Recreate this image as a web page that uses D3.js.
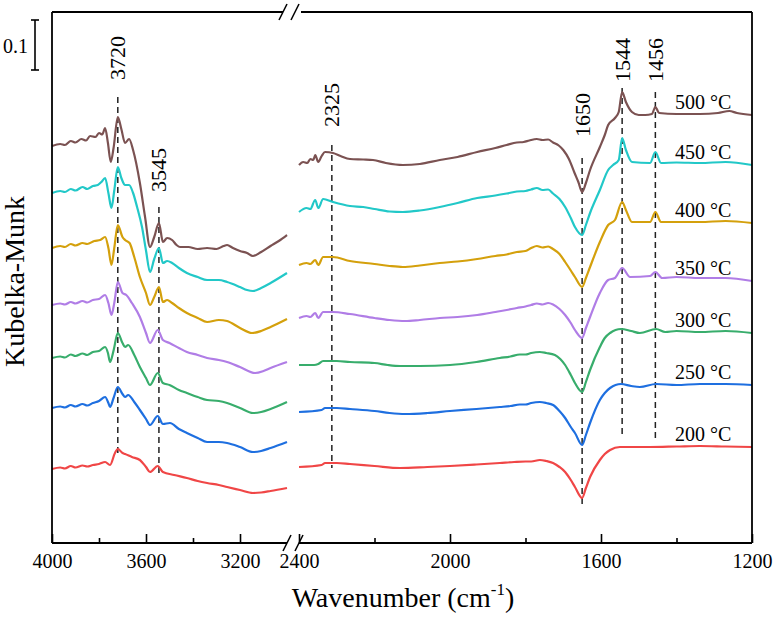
<!DOCTYPE html>
<html><head><meta charset="utf-8">
<script src="https://cdn.jsdelivr.net/npm/d3@7"></script>
<style>body{margin:0;background:#fff}svg{display:block}</style>
</head><body><svg id="c" width="775" height="619"></svg>
<script>
// ---------- DATA ----------
const temps = ["500 °C","450 °C","400 °C","350 °C","300 °C","250 °C","200 °C"];
const colors = ["#7b5252","#22c8c8","#d4a00c","#b07de6","#38ad6c","#1e6fe0","#f04646"];

// left panel (4000-3000 cm-1): [wavenumber, Kubelka-Munk]
const left500 = [[4000,0.794],[3965,0.798],[3945,0.796],[3920,0.804],[3900,0.801],[3875,0.808],[3855,0.805],[3838,0.814],[3815,0.812],[3800,0.820],[3786,0.817],[3774,0.830],[3762,0.800],[3750,0.762],[3738,0.790],[3720,0.852],[3705,0.828],[3689,0.800],[3672,0.808],[3655,0.786],[3626,0.720],[3604,0.652],[3583,0.592],[3565,0.612],[3545,0.640],[3528,0.602],[3510,0.610],[3489,0.606],[3470,0.596],[3455,0.592],[3420,0.592],[3380,0.588],[3340,0.590],[3300,0.588],[3270,0.594],[3255,0.596],[3230,0.590],[3200,0.584],[3170,0.580],[3145,0.574],[3110,0.582],[3070,0.594],[3035,0.604],[3000,0.616]];
const left450 = [[4000,0.700],[3965,0.704],[3945,0.702],[3920,0.708],[3900,0.705],[3870,0.712],[3850,0.708],[3826,0.714],[3805,0.716],[3790,0.722],[3774,0.730],[3760,0.700],[3747,0.670],[3735,0.705],[3720,0.752],[3705,0.730],[3689,0.716],[3672,0.716],[3655,0.700],[3638,0.672],[3617,0.632],[3600,0.585],[3583,0.542],[3565,0.568],[3545,0.590],[3528,0.560],[3510,0.564],[3489,0.560],[3460,0.550],[3426,0.540],[3380,0.532],[3340,0.526],[3290,0.526],[3255,0.522],[3200,0.512],[3170,0.506],[3145,0.504],[3110,0.510],[3070,0.520],[3000,0.540]];
const left400 = [[4000,0.590],[3965,0.594],[3945,0.592],[3920,0.598],[3900,0.595],[3870,0.600],[3850,0.598],[3820,0.604],[3795,0.606],[3774,0.612],[3760,0.590],[3747,0.556],[3735,0.590],[3720,0.636],[3700,0.612],[3689,0.606],[3670,0.600],[3650,0.572],[3626,0.532],[3600,0.500],[3583,0.476],[3565,0.492],[3545,0.512],[3528,0.482],[3510,0.486],[3489,0.480],[3460,0.470],[3426,0.460],[3380,0.450],[3340,0.442],[3290,0.446],[3255,0.444],[3200,0.430],[3149,0.420],[3110,0.424],[3070,0.432],[3000,0.448]];
const left350 = [[4000,0.476],[3965,0.479],[3945,0.477],[3920,0.482],[3900,0.479],[3870,0.484],[3850,0.481],[3826,0.486],[3800,0.488],[3774,0.496],[3760,0.480],[3747,0.456],[3735,0.480],[3720,0.522],[3700,0.500],[3684,0.496],[3660,0.480],[3626,0.452],[3600,0.420],[3583,0.400],[3550,0.426],[3528,0.406],[3500,0.400],[3460,0.390],[3426,0.382],[3380,0.376],[3340,0.370],[3290,0.366],[3255,0.362],[3200,0.352],[3136,0.340],[3100,0.344],[3070,0.350],[3000,0.362]];
const left300 = [[4000,0.370],[3965,0.373],[3945,0.371],[3920,0.377],[3900,0.374],[3870,0.379],[3850,0.376],[3826,0.382],[3800,0.384],[3774,0.392],[3762,0.380],[3753,0.362],[3738,0.385],[3720,0.420],[3700,0.400],[3689,0.392],[3676,0.396],[3650,0.376],[3626,0.352],[3600,0.330],[3583,0.316],[3550,0.340],[3528,0.320],[3500,0.316],[3460,0.306],[3426,0.300],[3380,0.292],[3340,0.286],[3290,0.284],[3255,0.280],[3200,0.270],[3145,0.260],[3110,0.262],[3070,0.268],[3000,0.282]];
const left250 = [[4000,0.270],[3965,0.273],[3945,0.271],[3920,0.276],[3900,0.273],[3870,0.278],[3850,0.275],[3826,0.280],[3800,0.284],[3774,0.292],[3760,0.280],[3753,0.272],[3738,0.290],[3720,0.312],[3700,0.298],[3689,0.292],[3676,0.296],[3650,0.282],[3626,0.266],[3600,0.248],[3583,0.236],[3550,0.254],[3528,0.238],[3498,0.240],[3460,0.228],[3426,0.220],[3380,0.210],[3340,0.202],[3290,0.202],[3255,0.200],[3200,0.192],[3145,0.182],[3110,0.184],[3070,0.190],[3000,0.202]];
const left200 = [[4000,0.148],[3965,0.151],[3945,0.149],[3920,0.154],[3900,0.151],[3870,0.155],[3850,0.153],[3826,0.156],[3800,0.158],[3774,0.162],[3753,0.156],[3732,0.180],[3720,0.188],[3700,0.180],[3689,0.178],[3660,0.172],[3626,0.166],[3600,0.152],[3583,0.142],[3550,0.154],[3528,0.142],[3480,0.136],[3426,0.130],[3380,0.124],[3340,0.120],[3290,0.116],[3255,0.112],[3200,0.106],[3145,0.100],[3110,0.101],[3070,0.104],[3000,0.110]];

// right panel (2400-1200 cm-1)
const right500 = [[2400,0.756],[2389,0.762],[2378,0.760],[2370,0.768],[2362,0.766],[2357,0.776],[2349,0.762],[2340,0.774],[2331,0.782],[2310,0.780],[2290,0.774],[2265,0.768],[2230,0.767],[2204,0.766],[2170,0.760],[2125,0.756],[2080,0.758],[2027,0.766],[1980,0.772],[1928,0.782],[1880,0.790],[1850,0.796],[1823,0.801],[1805,0.802],[1790,0.805],[1770,0.808],[1755,0.806],[1740,0.807],[1727,0.801],[1712,0.795],[1700,0.786],[1685,0.768],[1670,0.740],[1660,0.722],[1650,0.702],[1640,0.720],[1629,0.746],[1603,0.792],[1590,0.816],[1581,0.836],[1563,0.850],[1553,0.862],[1544,0.902],[1534,0.882],[1518,0.862],[1500,0.856],[1483,0.856],[1465,0.858],[1456,0.872],[1446,0.860],[1400,0.858],[1338,0.858],[1290,0.860],[1260,0.864],[1240,0.860],[1200,0.856]];
const right450 = [[2400,0.662],[2380,0.670],[2370,0.668],[2357,0.686],[2349,0.670],[2336,0.688],[2310,0.682],[2265,0.674],[2230,0.672],[2200,0.668],[2160,0.663],[2125,0.662],[2080,0.665],[2027,0.672],[1980,0.680],[1928,0.690],[1880,0.695],[1850,0.699],[1823,0.703],[1800,0.704],[1785,0.707],[1770,0.710],[1755,0.706],[1740,0.707],[1727,0.699],[1710,0.688],[1695,0.672],[1680,0.650],[1669,0.632],[1650,0.616],[1640,0.636],[1629,0.660],[1603,0.706],[1581,0.746],[1568,0.756],[1553,0.766],[1544,0.810],[1534,0.786],[1518,0.762],[1470,0.760],[1456,0.782],[1441,0.760],[1400,0.761],[1338,0.760],[1270,0.762],[1200,0.756]];
const right400 = [[2400,0.556],[2380,0.560],[2370,0.558],[2357,0.566],[2349,0.556],[2336,0.572],[2310,0.572],[2265,0.564],[2200,0.558],[2160,0.554],[2125,0.552],[2080,0.555],[2027,0.560],[1980,0.563],[1928,0.568],[1880,0.574],[1850,0.577],[1823,0.582],[1800,0.584],[1785,0.590],[1770,0.594],[1755,0.591],[1740,0.593],[1727,0.588],[1710,0.578],[1695,0.562],[1680,0.545],[1669,0.532],[1650,0.512],[1640,0.530],[1629,0.552],[1603,0.602],[1581,0.636],[1563,0.646],[1544,0.682],[1534,0.666],[1518,0.642],[1470,0.642],[1456,0.662],[1441,0.642],[1400,0.642],[1338,0.642],[1270,0.644],[1200,0.640]];
const right350 = [[2400,0.450],[2380,0.454],[2370,0.452],[2357,0.460],[2349,0.450],[2336,0.462],[2310,0.462],[2265,0.458],[2200,0.450],[2160,0.446],[2119,0.444],[2080,0.446],[2027,0.450],[1980,0.452],[1928,0.456],[1880,0.462],[1850,0.466],[1823,0.470],[1800,0.473],[1785,0.476],[1770,0.479],[1755,0.477],[1740,0.480],[1727,0.477],[1710,0.468],[1695,0.456],[1680,0.440],[1669,0.426],[1650,0.410],[1640,0.430],[1629,0.452],[1603,0.500],[1581,0.526],[1563,0.530],[1544,0.550],[1523,0.532],[1470,0.534],[1456,0.542],[1438,0.530],[1400,0.532],[1338,0.530],[1270,0.530],[1200,0.524]];
const right300 = [[2400,0.356],[2360,0.356],[2349,0.358],[2336,0.364],[2300,0.364],[2265,0.362],[2200,0.360],[2165,0.356],[2132,0.354],[2080,0.354],[2000,0.356],[1930,0.362],[1868,0.370],[1840,0.373],[1815,0.377],[1800,0.377],[1785,0.380],[1762,0.382],[1745,0.380],[1722,0.376],[1708,0.368],[1695,0.356],[1680,0.336],[1669,0.320],[1650,0.302],[1640,0.322],[1629,0.346],[1603,0.392],[1590,0.410],[1576,0.420],[1547,0.428],[1520,0.424],[1497,0.420],[1454,0.428],[1430,0.422],[1400,0.424],[1338,0.422],[1270,0.424],[1200,0.420]];
const right250 = [[2400,0.262],[2340,0.266],[2331,0.270],[2300,0.270],[2265,0.268],[2200,0.264],[2160,0.260],[2119,0.258],[2060,0.260],[2000,0.264],[1930,0.268],[1868,0.272],[1840,0.274],[1815,0.277],[1800,0.277],[1785,0.280],[1762,0.282],[1745,0.280],[1727,0.276],[1710,0.264],[1695,0.250],[1680,0.232],[1669,0.220],[1650,0.196],[1640,0.216],[1629,0.240],[1603,0.286],[1590,0.300],[1576,0.310],[1547,0.318],[1520,0.314],[1497,0.312],[1454,0.318],[1400,0.316],[1338,0.318],[1270,0.318],[1200,0.316]];
const right200 = [[2400,0.152],[2340,0.156],[2331,0.160],[2300,0.160],[2265,0.158],[2200,0.154],[2132,0.150],[2060,0.152],[2000,0.154],[1930,0.157],[1868,0.160],[1830,0.162],[1800,0.163],[1785,0.163],[1762,0.166],[1745,0.164],[1727,0.160],[1710,0.152],[1695,0.142],[1680,0.126],[1669,0.112],[1650,0.090],[1640,0.110],[1629,0.132],[1603,0.166],[1590,0.178],[1576,0.186],[1550,0.192],[1510,0.192],[1470,0.192],[1400,0.193],[1338,0.194],[1270,0.193],[1200,0.192]];

// peak annotations
const annoText   = ["3720","3545","2325","1650","1544","1456"];
const annoWave   = [3720, 3545, 2313, 1650, 1544, 1456];
const annoPanel  = ["L","L","R","R","R","R"];
const annoTop    = [0.892, 0.672, 0.796, 0.770, 0.910, 0.902];
const annoBottom = [0.172, 0.132, 0.150, 0.072, 0.216, 0.206];
const annoLabel  = [0.926, 0.702, 0.832, 0.812, 0.922, 0.922];

const leftMajor = [4000,3600,3200], leftMinor = [3800,3400];
const rightMajor = [2400,2000,1600,1200], rightMinor = [2200,1800,1400];
const scaleBar = 0.1;

// ---------- DRAW ----------
const FONT = "'Liberation Serif','Times New Roman',serif";
const svg = d3.select("#c");
const xL = d3.scaleLinear().domain([4000,3000]).range([52,287]);
const xR = d3.scaleLinear().domain([2400,1200]).range([299,752]);
const y = d3.scaleLinear().domain([0,1.062]).range([543,12]);
const yTop = y.range()[1], yBot = y.range()[0];

const seriesL = [left500,left450,left400,left350,left300,left250,left200];
const seriesR = [right500,right450,right400,right350,right300,right250,right200];

const lineL = d3.line().x(d=>xL(d[0])).y(d=>y(d[1])).curve(d3.curveMonotoneX);
const lineR = d3.line().x(d=>xR(d[0])).y(d=>y(d[1])).curve(d3.curveMonotoneX);

annoText.forEach((t,i)=>{
  const xs = annoPanel[i]==="L" ? xL : xR;
  const xp = xs(annoWave[i]);
  svg.append("line").attr("x1",xp).attr("x2",xp).attr("y1",y(annoTop[i])).attr("y2",y(annoBottom[i]))
    .attr("stroke","#222").attr("stroke-width",1.5).attr("stroke-dasharray","6,4");
  svg.append("text").attr("transform",`translate(${xp},${y(annoLabel[i])}) rotate(-90)`)
    .attr("dominant-baseline","central").attr("font-family",FONT).attr("font-size",22).attr("fill","#000").text(t);
});

for (let k=temps.length-1;k>=0;k--){
  svg.append("path").attr("d",lineL(seriesL[k])).attr("fill","none").attr("stroke",colors[k]).attr("stroke-width",2.2).attr("stroke-linejoin","round");
  svg.append("path").attr("d",lineR(seriesR[k])).attr("fill","none").attr("stroke",colors[k]).attr("stroke-width",2.2).attr("stroke-linejoin","round");
  const last = seriesR[k][seriesR[k].length-1];
  svg.append("text").attr("x",xR.range()[1]-77).attr("y",y(last[1])-6)
    .attr("font-family",FONT).attr("font-size",20).attr("fill","#000").text(temps[k]);
}

// frame
const fr = svg.append("g").attr("stroke","#000").attr("stroke-width",1.8).attr("fill","none");
fr.append("line").attr("x1",xL.range()[0]).attr("x2",xL.range()[0]).attr("y1",yTop).attr("y2",yBot);
fr.append("line").attr("x1",xR.range()[1]).attr("x2",xR.range()[1]).attr("y1",yTop).attr("y2",yBot);
fr.append("line").attr("x1",xL.range()[0]).attr("x2",xL.range()[1]-4).attr("y1",yTop).attr("y2",yTop);
fr.append("line").attr("x1",xR.range()[0]+2).attr("x2",xR.range()[1]).attr("y1",yTop).attr("y2",yTop);
fr.append("line").attr("x1",xL.range()[0]).attr("x2",xL.range()[1]).attr("y1",yBot).attr("y2",yBot);
fr.append("line").attr("x1",xR.range()[0]).attr("x2",xR.range()[1]).attr("y1",yBot).attr("y2",yBot);
[[yTop,-4],[yBot,0]].forEach(([yy,dx])=>{
  [xL.range()[1]+dx, xR.range()[0]+dx].forEach(cx=>{
    fr.append("line").attr("x1",cx-4).attr("y1",yy+8).attr("x2",cx+4).attr("y2",yy-8).attr("stroke-width",1.6);
  });
});

function axisG(scale, vals, size, labels){
  const ax = d3.axisBottom(scale).tickValues(vals).tickSize(-size).tickSizeOuter(0).tickPadding(11)
    .tickFormat(labels ? d3.format("d") : "");
  const g = svg.append("g").attr("transform",`translate(0,${yBot})`).call(ax);
  g.attr("font-family",FONT).attr("font-size",20);
  g.select(".domain").remove();
  g.selectAll("line").attr("stroke","#000").attr("stroke-width",1.6);
  g.selectAll("text").attr("font-family",FONT).attr("font-size",20).attr("fill","#000");
}
axisG(xL,leftMajor,9,true); axisG(xL,leftMinor,5,false);
axisG(xR,rightMajor,9,true); axisG(xR,rightMinor,5,false);

const sbTop = y(1.046), sbBot = y(1.046-scaleBar);
const sb = svg.append("g").attr("stroke","#000").attr("stroke-width",1.6);
sb.append("line").attr("x1",35).attr("x2",35).attr("y1",sbTop).attr("y2",sbBot);
sb.append("line").attr("x1",31).attr("x2",39).attr("y1",sbTop).attr("y2",sbTop);
sb.append("line").attr("x1",31).attr("x2",39).attr("y1",sbBot).attr("y2",sbBot);
svg.append("text").attr("x",28).attr("y",(sbTop+sbBot)/2+8).attr("text-anchor","end")
  .attr("font-family",FONT).attr("font-size",20).text(String(scaleBar));

svg.append("text").attr("transform",`translate(24,${(yTop+yBot)/2+4}) rotate(-90)`).attr("text-anchor","middle")
  .attr("font-family",FONT).attr("font-size",28).text("Kubelka-Munk");
const xt = svg.append("text").attr("x",403).attr("y",607).attr("text-anchor","middle")
  .attr("font-family",FONT).attr("font-size",28);
xt.append("tspan").text("Wavenumber (cm");
xt.append("tspan").attr("font-size",17).attr("dy",-12).text("-1");
xt.append("tspan").attr("dy",12).text(")");
</script></body></html>
